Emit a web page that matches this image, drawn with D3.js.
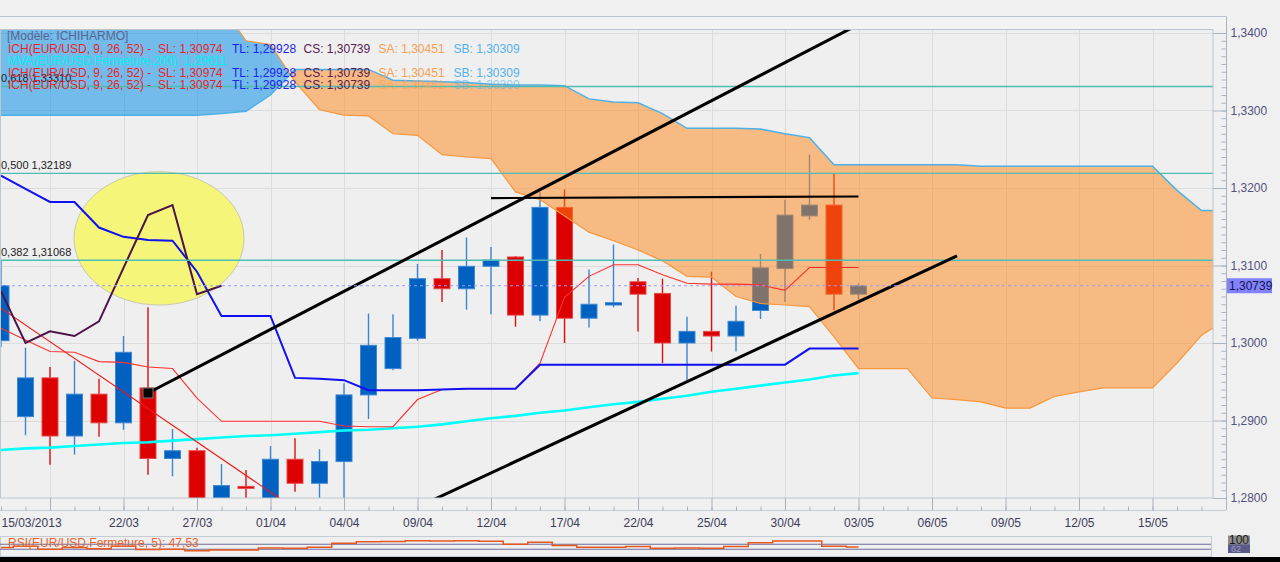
<!DOCTYPE html>
<html><head><meta charset="utf-8">
<script src="https://cdn.jsdelivr.net/npm/d3@7"></script>
<style>
html,body{margin:0;padding:0;background:#f0f0f0;overflow:hidden}
svg{display:block}
text{font-family:"Liberation Sans",Arial,sans-serif;white-space:pre}
</style>
</head><body>
<svg id="c" width="1280" height="562"></svg>
<script>
// ---------------- DATA ----------------
const dates = ["15/03","18/03","19/03","20/03","21/03","22/03","25/03","26/03","27/03","28/03","29/03","01/04","02/04","03/04","04/04","05/04","08/04","09/04","10/04","11/04","12/04","15/04","16/04","17/04","18/04","19/04","22/04","23/04","24/04","25/04","26/04","29/04","30/04","01/05","02/05","03/05"];
const open  = [1.3003,1.2905,1.2955,1.2880,1.2934,1.2897,1.2942,1.2851,1.2861,1.2795,1.2815,1.2795,1.2850,1.2819,1.2847,1.2933,1.2967,1.3006,1.3083,1.3070,1.3099,1.3111,1.3036,1.3175,1.3032,1.3049,1.3079,1.3064,1.3000,1.3015,1.3009,1.3042,1.3096,1.3164,1.3178,1.3063];
const high  = [1.3107,1.2994,1.2969,1.2977,1.2954,1.3009,1.3046,1.2889,1.2865,1.2844,1.2836,1.2867,1.2877,1.2863,1.2948,1.3038,1.3037,1.3102,1.3120,1.3136,1.3124,1.3112,1.3195,1.3198,1.3095,1.3127,1.3084,1.3083,1.3034,1.3092,1.3048,1.3115,1.3185,1.3243,1.3219,1.3077];
const low   = [1.2995,1.2881,1.2843,1.2856,1.2879,1.2888,1.2830,1.2828,1.2790,1.2790,1.2796,1.2790,1.2808,1.2796,1.2796,1.2902,1.2965,1.3003,1.3053,1.3043,1.3037,1.3021,1.3028,1.3000,1.3020,1.3046,1.3015,1.2974,1.2952,1.2989,1.2989,1.3031,1.3053,1.3159,1.3042,1.3056];
const close = [1.3074,1.2955,1.2880,1.2934,1.2897,1.2988,1.2851,1.2861,1.2795,1.2816,1.2814,1.2850,1.2819,1.2847,1.2933,1.2997,1.3007,1.3083,1.3070,1.3099,1.3107,1.3036,1.3175,1.3032,1.3050,1.3052,1.3063,1.3000,1.3015,1.3009,1.3028,1.3097,1.3165,1.3178,1.3063,1.30739];
const tenkan = [1.3019,1.3004,1.2989,1.2988,1.2976,1.2975,1.2969,1.2967,1.2929,1.2899,1.2899,1.2899,1.2899,1.2899,1.2893,1.2892,1.2892,1.2927,1.2940,1.2941,1.2941,1.2941,1.2974,1.3059,1.3086,1.3101,1.3101,1.3088,1.3077,1.3076,1.3076,1.3075,1.3068,1.30974,1.30974,1.30974];
const kijun  = [1.3216,1.3199,1.3182,1.3182,1.3149,1.3137,1.3133,1.3132,1.3092,1.3035,1.3035,1.3035,1.2955,1.2954,1.2952,1.2939,1.2939,1.2939,1.2940,1.2941,1.2941,1.2941,1.2972,1.2972,1.2972,1.2972,1.2972,1.2972,1.2972,1.2972,1.2972,1.2972,1.2972,1.29928,1.29928,1.29928];
const chikou = [1.3067,1.3000,1.3015,1.3009,1.3028,1.3097,1.3165,1.3178,1.3063,1.30739];
const ma200  = [1.2862,1.2864,1.2865,1.2867,1.2869,1.2871,1.2872,1.2874,1.2876,1.2878,1.2880,1.2881,1.2883,1.2885,1.2887,1.2888,1.2890,1.2892,1.2895,1.2899,1.2903,1.2906,1.2910,1.2913,1.2917,1.2921,1.2924,1.2928,1.2932,1.2937,1.2941,1.2945,1.2949,1.2953,1.2958,1.29611];
const spanA  = [1.3445,1.3445,1.3444,1.3443,1.3442,1.3441,1.3440,1.3439,1.3437,1.3435,1.3390,1.3385,1.3337,1.3301,1.3294,1.3293,1.3270,1.3268,1.3243,1.3240,1.3238,1.3195,1.3185,1.3164,1.3143,1.3132,1.3120,1.3106,1.3086,1.3085,1.3060,1.3051,1.3049,1.3047,1.3008,1.2967,1.2967,1.2967,1.2929,1.2927,1.2924,1.2916,1.2916,1.2931,1.2937,1.2942,1.2942,1.2942,1.2974,1.3010,1.3030];
const spanB  = [1.3294,1.3294,1.3294,1.3294,1.3294,1.3294,1.3294,1.3294,1.3294,1.3296,1.3299,1.3320,1.3353,1.3353,1.3353,1.3353,1.3339,1.3338,1.3337,1.3336,1.3334,1.3333,1.3333,1.3332,1.3315,1.3311,1.3310,1.3296,1.3277,1.3277,1.3277,1.3276,1.3270,1.3265,1.3230,1.3230,1.3230,1.3230,1.3230,1.3230,1.3228,1.3228,1.3228,1.3228,1.3228,1.3228,1.3228,1.3228,1.3197,1.3171,1.3171];
const rsi    = [45,55,30,45,35,55,28,30,19,25,24,40,38,46,78,91,92,99,97,98,95,70,86,60,46,46,52,38,40,38,52,83,97,96,55,47.53];
const fibLevels = [1.33310,1.32189,1.31068];
const fibLabels = ["0,618 1,33310","0,500 1,32189","0,382 1,31068"];
const priceTicks = [1.28,1.29,1.30,1.31,1.32,1.33,1.34];
const tickBars   = [2,5,8,11,14,17,20,23,26,29,32,35,38,41,44,47];
const tickLabels = ["15/03/2013","22/03","27/03","01/04","04/04","09/04","12/04","17/04","22/04","25/04","30/04","03/05","06/05","09/05","12/05","15/05"];
const lastPrice = 1.30739;
// user drawn objects (bar index, price)
const trendUp   = [[6.0,1.29355],[35.0,1.34110]];
const trendLow  = [[17.0,1.27882],[39.02,1.31123]];
const trendHorz = [[20,1.3187],[35,1.3189]];
const trendRed  = [[-0.1,1.3047],[12.0,1.2786]];
const ellipseBox = {b0:2.98,b1:9.92,p0:1.3049,p1:1.3221};

// ---------------- SCALES ----------------
const svg = d3.select('#c');
const PL=0, PR=1213, PT=29.5, PB=498;
const x = d3.scaleLinear().domain([0,49]).range([1,1201.5]);
const y = d3.scaleLinear().domain([1.28,1.34]).range([498,33]);
const yR = d3.scaleLinear().domain([0,100]).range([553,540.5]);
const N = close.length;
const fmt = v => v.toFixed(4).replace('.',',');

svg.append('rect').attr('width',1280).attr('height',562).attr('fill','#f0f0f0');
svg.append('line').attr('x1',0).attr('x2',1226).attr('y1',16.5).attr('y2',16.5).attr('stroke','#b7c1cb');
svg.append('rect').attr('x',0).attr('y',17).attr('width',1226).attr('height',12.5).attr('fill','#f3f3f3');

const defs = svg.append('defs');
defs.append('clipPath').attr('id','pc').append('rect').attr('x',PL).attr('y',PT).attr('width',PR-PL).attr('height',PB-PT);

svg.append('rect').attr('x',PL).attr('y',PT).attr('width',PR-PL).attr('height',PB-PT).attr('fill','#efefef');
const g = svg.append('g').attr('clip-path','url(#pc)');

// grid
g.selectAll('line.hg').data(priceTicks).join('line')
  .attr('x1',PL).attr('x2',PR).attr('y1',d=>Math.round(y(d))+0.5).attr('y2',d=>Math.round(y(d))+0.5)
  .attr('stroke','#dcdcdc');
g.selectAll('line.vg').data(tickBars).join('line')
  .attr('y1',PT).attr('y2',PB).attr('x1',d=>Math.round(x(d))+0.5).attr('x2',d=>Math.round(x(d))+0.5)
  .attr('stroke','#dcdcdc');

// candles
const idx = d3.range(N);
const up = i => close[i] >= open[i];
g.selectAll('line.wick').data(idx).join('line')
  .attr('x1',i=>x(i)).attr('x2',i=>x(i))
  .attr('y1',i=>y(high[i])).attr('y2',i=>y(low[i]))
  .attr('stroke',i=>up(i)?'#3b86d4':'#dd1010').attr('stroke-width',1.4);
g.selectAll('rect.body').data(idx).join('rect')
  .attr('x',i=>x(i)-8).attr('width',16)
  .attr('y',i=>y(Math.max(open[i],close[i])))
  .attr('height',i=>Math.max(2,Math.abs(y(open[i])-y(close[i]))))
  .attr('fill',i=>up(i)?'#0061c1':'#dc0000')
  .attr('stroke',i=>up(i)?'#3f88d2':'#e54848').attr('stroke-width',1);

// cloud
const cpts = [];
for (let i=0;i<spanA.length;i++){
  cpts.push({i, a:spanA[i], b:spanB[i]});
  if (i<spanA.length-1){
    const d0=spanA[i]-spanB[i], d1=spanA[i+1]-spanB[i+1];
    if (d0*d1<0){const t=d0/(d0-d1);cpts.push({i:i+t,a:spanA[i]+t*(spanA[i+1]-spanA[i]),b:spanB[i]+t*(spanB[i+1]-spanB[i])});}
  }
}
g.append('path').datum(cpts)
  .attr('d',d3.area().x(d=>x(d.i)).y0(d=>y(d.b)).y1(d=>y(Math.max(d.a,d.b))))
  .attr('fill','rgb(0,140,232)').attr('fill-opacity',0.52);
g.append('path').datum(cpts)
  .attr('d',d3.area().x(d=>x(d.i)).y0(d=>y(d.a)).y1(d=>y(Math.max(d.a,d.b))))
  .attr('fill','rgb(255,134,22)').attr('fill-opacity',0.5);
g.append('path').datum(spanA).attr('d',d3.line().x((d,i)=>x(i)).y(d=>y(d)))
  .attr('fill','none').attr('stroke','#f7973e').attr('stroke-width',1.2);
g.append('path').datum(spanB).attr('d',d3.line().x((d,i)=>x(i)).y(d=>y(d)))
  .attr('fill','none').attr('stroke','#4fb0e6').attr('stroke-width',1.5);

// ellipse annotation
g.append('ellipse')
  .attr('cx',(x(ellipseBox.b0)+x(ellipseBox.b1))/2).attr('cy',(y(ellipseBox.p0)+y(ellipseBox.p1))/2)
  .attr('rx',(x(ellipseBox.b1)-x(ellipseBox.b0))/2).attr('ry',(y(ellipseBox.p0)-y(ellipseBox.p1))/2)
  .attr('fill','#f5f579').attr('stroke','#c8c8b0').attr('stroke-width',1);

// MA 200
g.append('path').datum(ma200).attr('d',d3.line().x((d,i)=>x(i)).y(d=>y(d)))
  .attr('fill','none').attr('stroke','#00ffff').attr('stroke-width',2.6);
// thin red trendline
g.append('path').datum(trendRed).attr('d',d3.line().x(d=>x(d[0])).y(d=>y(d[1])))
  .attr('stroke','#f01818').attr('stroke-width',1.1).attr('fill','none');
// tenkan
g.append('path').datum(tenkan).attr('d',d3.line().x((d,i)=>x(i)).y(d=>y(d)))
  .attr('fill','none').attr('stroke','#ff3030').attr('stroke-width',1.1);
// kijun
g.append('path').datum(kijun).attr('d',d3.line().x((d,i)=>x(i)).y(d=>y(d)))
  .attr('fill','none').attr('stroke','#1010f0').attr('stroke-width',2);
// chikou
g.append('path').datum(chikou).attr('d',d3.line().x((d,i)=>x(i)).y(d=>y(d)))
  .attr('fill','none').attr('stroke','#4b1448').attr('stroke-width',2);

// fib lines
g.selectAll('line.fib').data(fibLevels).join('line')
  .attr('x1',PL).attr('x2',PR).attr('y1',d=>y(d)).attr('y2',d=>y(d))
  .attr('stroke','#4ebdb3').attr('stroke-width',1.3);

// black trend lines
[trendUp,trendLow].forEach(t=>{
  g.append('path').datum(t).attr('d',d3.line().x(d=>x(d[0])).y(d=>y(d[1])))
   .attr('stroke','#000').attr('stroke-width',3).attr('fill','none');
});
g.append('path').datum(trendHorz).attr('d',d3.line().x(d=>x(d[0])).y(d=>y(d[1])))
  .attr('stroke','#000').attr('stroke-width',2.2).attr('fill','none');
g.append('rect').attr('x',x(trendUp[0][0])-5).attr('y',y(trendUp[0][1])-5).attr('width',10).attr('height',10)
  .attr('fill','#000').attr('stroke','#777');

// current price dashed line
g.append('line').attr('x1',PL).attr('x2',PR).attr('y1',y(lastPrice)).attr('y2',y(lastPrice))
  .attr('stroke','#9c9cff').attr('stroke-width',1.2).attr('stroke-dasharray','3,3');

// fib labels
g.selectAll('text.fibl').data(fibLevels).join('text')
  .attr('x',1).attr('y',d=>y(d)-4).attr('font-size',11).attr('fill','#222')
  .text((d,i)=>fibLabels[i]);

// legend
const leg = svg.append('g').attr('font-size',12);
leg.append('text').attr('x',7).attr('y',40.3).attr('fill','#5a6490').text('[Modèle: ICHIHARMO]');
function ichRow(yy, op){
  leg.append('text').attr('x',8).attr('y',yy).attr('fill','#e8262a').text('ICH(EUR/USD, 9, 26, 52) -  SL: 1,30974');
  leg.append('text').attr('x',232).attr('y',yy).attr('fill','#1e1ef0').text('TL: 1,29928');
  leg.append('text').attr('x',303.5).attr('y',yy).attr('fill','#5a2052').text('CS: 1,30739');
  leg.append('text').attr('x',378.5).attr('y',yy).attr('fill','#f7a050').attr('opacity',op).text('SA: 1,30451');
  leg.append('text').attr('x',453.5).attr('y',yy).attr('fill','#52b2ee').attr('opacity',op).text('SB: 1,30309');
}
ichRow(52.6,1);
leg.append('text').attr('x',8).attr('y',64.8).attr('fill','#00f0f0').text('MVA(EUR/USD.Fermeture,200): 1,29611');
ichRow(77,1);
ichRow(88.8,0.55);

// plot frame
svg.append('rect').attr('x',PL+0.5).attr('y',PT).attr('width',PR-PL-0.5).attr('height',PB-PT)
  .attr('fill','none').attr('stroke','#bcc6d0');

// right axis
svg.append('line').attr('x1',1226.5).attr('x2',1226.5).attr('y1',16.5).attr('y2',510).attr('stroke','#aab4c0');
const minorVals = d3.range(0,61).map(k=>1.28+k*0.001);
svg.append('g').attr('transform','translate(1226.5,0)')
  .call(d3.axisLeft(y).tickValues(minorVals).tickSize(5).tickFormat(''))
  .call(a=>a.select('.domain').remove())
  .call(a=>a.selectAll('line').attr('stroke','#aab4c0'));
svg.append('g').attr('transform','translate(1226.5,0)')
  .call(d3.axisLeft(y).tickValues(priceTicks).tickSize(13.5).tickFormat(''))
  .call(a=>a.select('.domain').remove())
  .call(a=>a.selectAll('line').attr('stroke','#aab4c0'));
svg.append('g').attr('transform','translate(1226.5,0)')
  .call(d3.axisRight(y).tickValues(priceTicks).tickSize(0).tickPadding(4).tickFormat(fmt))
  .call(a=>a.select('.domain').remove())
  .call(a=>a.selectAll('text').attr('font-size',12).attr('fill','#52527e').attr('font-family','"Liberation Sans",Arial,sans-serif'));
// last price tag
svg.append('rect').attr('x',1227).attr('y',y(lastPrice)-7.5).attr('width',45).attr('height',15).attr('fill','#8282ff');
svg.append('text').attr('x',1229).attr('y',y(lastPrice)+4.3).attr('font-size',12).attr('fill','#15154a').text(lastPrice.toFixed(5).replace('.',','));

// date axis
svg.append('line').attr('x1',0).attr('x2',1226).attr('y1',510.5).attr('y2',510.5).attr('stroke','#c4ccd4');
const minorBars = d3.range(0,50);
svg.append('g').attr('transform','translate(0,510.5)')
  .call(d3.axisTop(x).tickValues(minorBars).tickSize(4).tickFormat(''))
  .call(a=>a.select('.domain').remove())
  .call(a=>a.selectAll('line').attr('stroke','#a8b0bc'));
const xa = svg.append('g').attr('transform',`translate(0,${PB})`)
  .call(d3.axisBottom(x).tickValues(tickBars).tickSize(12).tickPadding(8).tickFormat((d,i)=>tickLabels[i]))
  .call(a=>a.select('.domain').remove())
  .call(a=>a.selectAll('line').attr('stroke','#a8b0bc'))
  .call(a=>a.selectAll('text').attr('font-size',12).attr('fill','#3c3c5a').attr('font-family','"Liberation Sans",Arial,sans-serif'));
xa.selectAll('.tick').filter((d,i)=>i===0).select('text').attr('text-anchor','start').attr('x',-x(tickBars[0])+1);

// RSI panel
svg.append('rect').attr('x',0.5).attr('y',536.5).attr('width',1211).attr('height',20).attr('fill','#efefef').attr('stroke','#c4ccd4');
svg.selectAll('line.rl').data([70,30]).join('line')
  .attr('x1',0).attr('x2',1211).attr('y1',d=>yR(d)).attr('y2',d=>yR(d))
  .attr('stroke','#6e6e9e').attr('stroke-width',1.2);
svg.append('path').datum(rsi).attr('d',d3.line().x((d,i)=>x(i)).y(d=>yR(d)).curve(d3.curveStep))
  .attr('fill','none').attr('stroke','#e8581c').attr('stroke-width',1.5);
svg.append('text').attr('x',8).attr('y',547).attr('font-size',12).attr('fill','#e8642e')
  .text('RSI(EUR/USD.Fermeture, 5): 47,53');
svg.append('rect').attr('x',1228).attr('y',544).attr('width',22).attr('height',9).attr('fill','#5a5a8a');
svg.append('text').attr('x',1231).attr('y',552).attr('font-size',9).attr('fill','#9a9ac0').text('62');
svg.append('rect').attr('x',1228).attr('y',535.5).attr('width',22).attr('height',9).attr('fill','#8c8c8c');
svg.append('text').attr('x',1229).attr('y',544).attr('font-size',12).attr('fill','#1a1a1a').text('100');
svg.append('rect').attr('x',0).attr('y',557).attr('width',1280).attr('height',5).attr('fill','#000');
</script>
</body></html>
